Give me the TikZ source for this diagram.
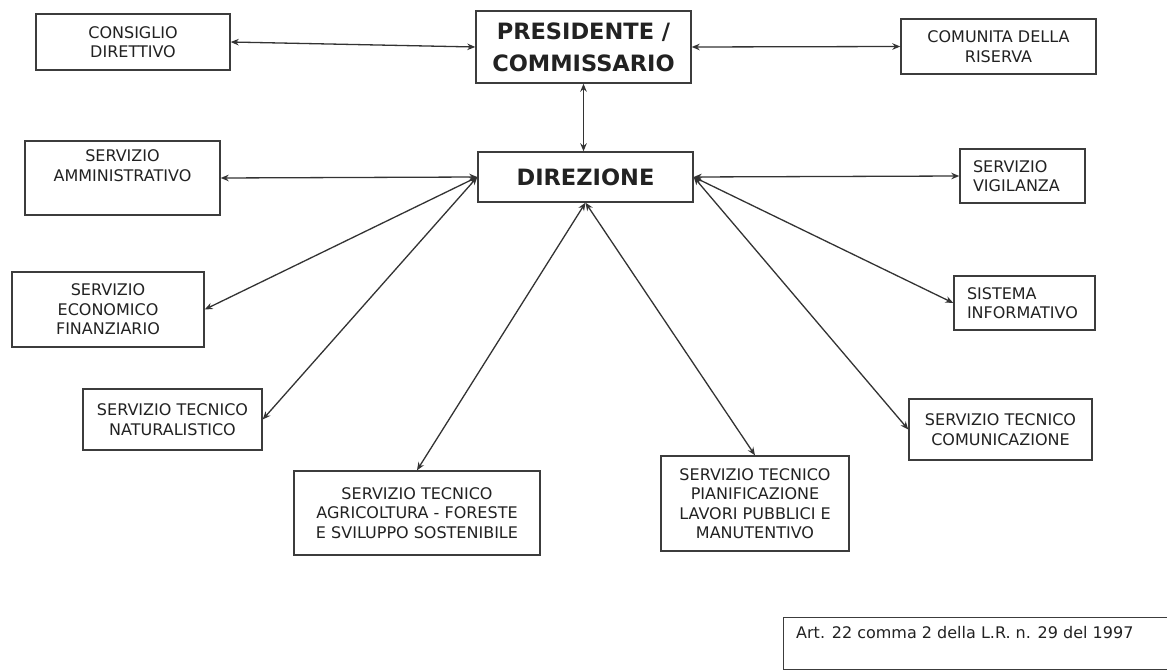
\documentclass[tikz,border=0pt]{standalone}
\usepackage{fontspec}
\setmainfont{DejaVu Sans}
\usetikzlibrary{arrows.meta}
\definecolor{boxc}{HTML}{3C3C3C}
\definecolor{linec}{HTML}{333333}
\definecolor{txtc}{HTML}{222222}
\begin{document}
\begin{tikzpicture}[x=1pt,y=-1pt,
  box/.style={draw=boxc, line width=1.4pt, rectangle, inner sep=0pt, align=center,
    font=\fontsize{16}{19.5}\selectfont, text=txtc},
  bigbox/.style={box, font=\bfseries\fontsize{22.5}{32}\selectfont},
  link/.style={draw=linec, line width=1.3pt,
    {Stealth[length=8pt,width=6.5pt]}-{Stealth[length=8pt,width=6.5pt]}}]
\useasboundingbox (0,0) rectangle (1167,671);
\fill[white] (0,0) rectangle (1167,671);

% top row
\node[box, minimum width=194, minimum height=56] (cons) at (133,42) {CONSIGLIO\\DIRETTIVO};
\node[bigbox, minimum width=215, minimum height=72] (pres) at (583.5,47) {PRESIDENTE /\\COMMISSARIO};
\node[box, minimum width=195, minimum height=55] (comu) at (998.5,46.5) {COMUNITA DELLA\\RISERVA};

% direzione row
\node[box, font=\bfseries\fontsize{22.5}{32}\selectfont, minimum width=215, minimum height=50] (dir) at (585.5,177) {DIREZIONE};
\node[box, minimum width=195, minimum height=74] (amm) at (122.5,178) {SERVIZIO\\AMMINISTRATIVO\\\strut};
\node[box, minimum width=125, minimum height=54, align=left, text width=99] (vig) at (1022.5,176) {SERVIZIO\\VIGILANZA};

% left column
\node[box, minimum width=192, minimum height=75] (econ) at (108,309.5) {SERVIZIO\\ECONOMICO\\FINANZIARIO};
\node[box, minimum width=179, minimum height=61] (nat) at (172.5,419.5) {SERVIZIO TECNICO\\NATURALISTICO};

% right column
\node[box, minimum width=141, minimum height=54, align=left, text width=115] (sis) at (1024.5,303) {SISTEMA\\INFORMATIVO};
\node[box, minimum width=183, minimum height=61] (com) at (1000.5,429.5) {SERVIZIO TECNICO\\COMUNICAZIONE};

% bottom
\node[box, minimum width=246, minimum height=84] (agri) at (417,513) {SERVIZIO TECNICO\\AGRICOLTURA - FORESTE\\E SVILUPPO SOSTENIBILE};
\node[box, minimum width=188, minimum height=95] (pian) at (755,503.5) {SERVIZIO TECNICO\\PIANIFICAZIONE\\LAVORI PUBBLICI E\\MANUTENTIVO};

% footnote
\node[draw=boxc, line width=1.4pt, rectangle, inner sep=0pt, anchor=north west,
  minimum width=386, minimum height=52] (foot) at (783,617) {};
\node[anchor=west, inner sep=0pt, text=txtc, font=\fontsize{16}{19}\selectfont] (foottext) at (796,633) {Art. 22 comma 2 della L.R. n. 29 del 1997};

% connectors
\draw[link] (cons.east) -- (pres.west);
\draw[link] (pres.east) -- (comu.west);
\draw[link] (pres.south) -- (pres.south |- dir.north);
\draw[link] (dir.west) -- (amm.east);
\draw[link] (dir.east) -- (vig.west);
\draw[link] (dir.west) -- (econ.east);
\draw[link] (dir.west) -- (nat.east);
\draw[link] (dir.south) -- (agri.north);
\draw[link] (dir.south) -- (pian.north);
\draw[link] (dir.east) -- (sis.west);
\draw[link] (dir.east) -- (com.west);
\end{tikzpicture}
\end{document}
